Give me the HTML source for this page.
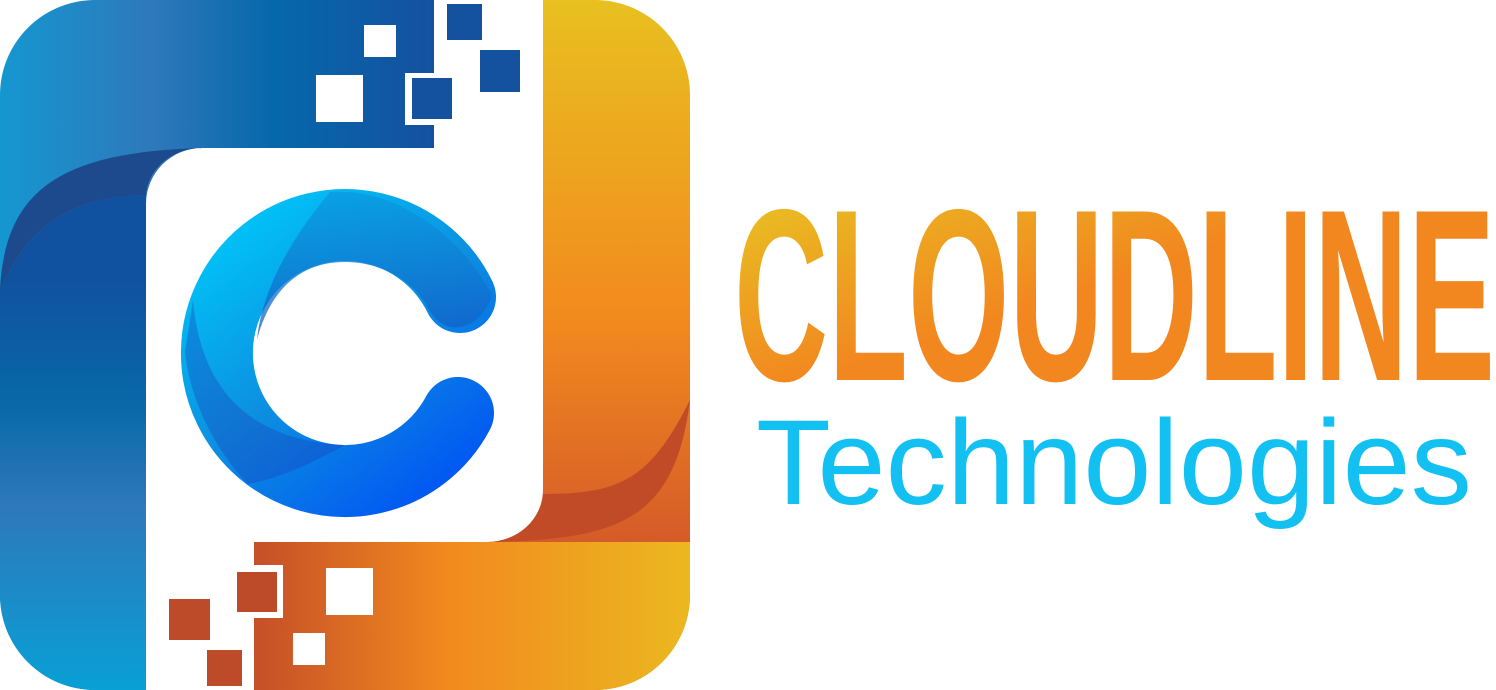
<!DOCTYPE html>
<html><head><meta charset="utf-8"><style>
html,body{margin:0;padding:0;background:#fff;}
svg{display:block}
</style></head><body>
<svg width="1496" height="690" viewBox="0 0 1496 690" xmlns="http://www.w3.org/2000/svg">
<defs>
<linearGradient id="bt" x1="0" y1="0" x2="440" y2="0" gradientUnits="userSpaceOnUse">
<stop offset="0" stop-color="#1597d0"/><stop offset="0.35" stop-color="#2e78bb"/><stop offset="0.62" stop-color="#0568aa"/><stop offset="1" stop-color="#1650a0"/></linearGradient>
<linearGradient id="bl" x1="0" y1="280" x2="0" y2="690" gradientUnits="userSpaceOnUse">
<stop offset="0" stop-color="#1052a0"/><stop offset="0.3" stop-color="#0868a8"/><stop offset="0.55" stop-color="#2e78bb"/><stop offset="1" stop-color="#08a0d5"/></linearGradient>
<linearGradient id="or" x1="0" y1="0" x2="0" y2="540" gradientUnits="userSpaceOnUse">
<stop offset="0" stop-color="#e8c020"/><stop offset="0.6" stop-color="#f2891e"/><stop offset="1" stop-color="#d55c28"/></linearGradient>
<linearGradient id="ob" x1="254" y1="0" x2="690" y2="0" gradientUnits="userSpaceOnUse">
<stop offset="0" stop-color="#c54f28"/><stop offset="0.45" stop-color="#f28a1e"/><stop offset="1" stop-color="#ebb820"/></linearGradient>
<linearGradient id="cg" x1="220" y1="210" x2="450" y2="510" gradientUnits="userSpaceOnUse">
<stop offset="0" stop-color="#00c8fa"/><stop offset="0.5" stop-color="#0c8ee0"/><stop offset="1" stop-color="#0050f5"/></linearGradient>
<linearGradient id="cd" x1="0" y1="190" x2="0" y2="450" gradientUnits="userSpaceOnUse">
<stop offset="0" stop-color="#0b9ae0"/><stop offset="1" stop-color="#1a30b0"/></linearGradient>
<linearGradient id="tx" x1="740" y1="205" x2="800" y2="385" gradientUnits="userSpaceOnUse">
<stop offset="0" stop-color="#e9be22"/><stop offset="1" stop-color="#f2861f"/></linearGradient>
</defs>
<path d="M543,0 H595 A95,95 0 0 1 690,95 V595 A95,95 0 0 1 595,690 H254 V618 H283 V565 H254 V542 H487 A56,52 0 0 0 543,490 Z" fill="url(#or)"/>
<path d="M690,400 C675,520 620,540 487,542 A56,52 0 0 0 543,494 C620,494 650,480 690,400 Z" fill="#c04b26"/>
<path d="M254,542 H690 V595 A95,95 0 0 1 595,690 H254 V618 H283 V565 H254 Z" fill="url(#ob)"/>
<path d="M95,0 H434 V73 H405 V125 H434 V148 H202 A56,56 0 0 0 146,204 V690 H95 A95,95 0 0 1 0,595 V95 A95,95 0 0 1 95,0 Z" fill="url(#bt)"/>
<path d="M0,290 C30,220 80,196 146,195 V690 H95 A95,95 0 0 1 0,595 Z" fill="url(#bl)"/>
<path d="M0,290 C5,190 60,152 202,148 A56,50 0 0 0 146,195 C80,196 30,220 0,290 Z" fill="#1c4a8c"/>
<rect x="364" y="25" width="32" height="32" fill="#fff"/>
<rect x="316" y="75" width="47" height="47" fill="#fff"/>
<rect x="408" y="74" width="48" height="49" fill="#fff"/>
<rect x="412" y="78" width="40" height="41" fill="#1452a0"/>
<rect x="447" y="4" width="35" height="36" fill="#1452a0"/>
<rect x="480" y="50" width="40" height="42" fill="#1452a0"/>
<rect x="233" y="568" width="48" height="48" fill="#fff"/>
<rect x="237" y="572" width="40" height="40" fill="#bd4a28"/>
<rect x="326" y="568" width="47" height="47" fill="#fff"/>
<rect x="169" y="599" width="41" height="41" fill="#bd4a28"/>
<rect x="207" y="650" width="35" height="36" fill="#bd4a28"/>
<rect x="293" y="633" width="32" height="32" fill="#fff"/>
<path d="M460,297 A128,128 0 1 0 458,413" fill="none" stroke="url(#cg)" stroke-width="72" stroke-linecap="round"/>
<path d="M330,192 C290,240 262,290 257,340 C270,290 300,262 345,262 C390,262 420,290 428,308 C445,340 480,330 492,296 C480,270 450,230 400,206 C380,196 355,190 330,192 Z" fill="url(#cd)" opacity="0.75"/>
<path d="M193,300 C200,380 240,440 345,445 C300,470 270,480 248,484 C215,450 190,400 185,352 Z" fill="#1a40b8" opacity="0.35"/>
<text x="734" y="380" textLength="761" lengthAdjust="spacingAndGlyphs" font-family="'Liberation Sans Narrow','Liberation Sans',sans-serif" font-weight="bold" font-size="245" fill="url(#tx)">CLOUDLINE</text>
<text x="756" y="504" textLength="716" lengthAdjust="spacingAndGlyphs" font-family="'Liberation Sans',sans-serif" font-size="121" fill="#12c0f2">Technologies</text>
</svg>
</body></html>
